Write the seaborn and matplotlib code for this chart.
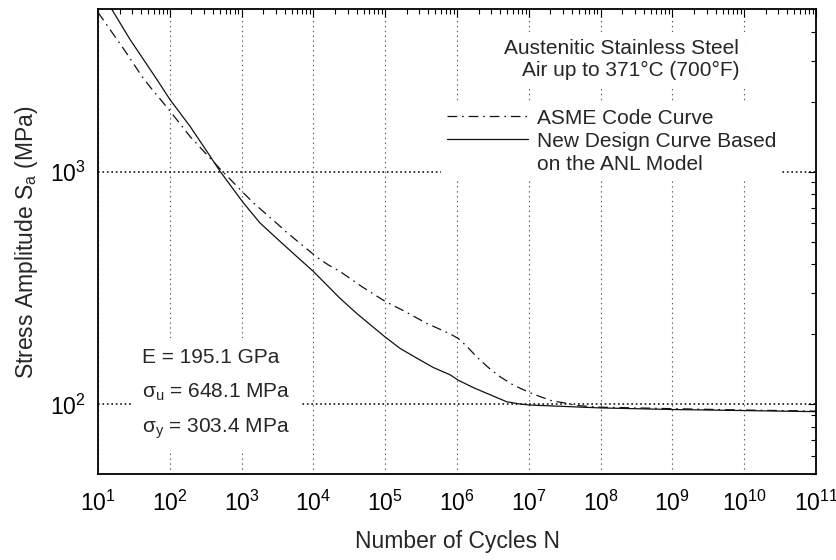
import numpy as np
import pandas as pd
import matplotlib
matplotlib.use("Agg")
import matplotlib.pyplot as plt
from matplotlib.ticker import LogLocator, NullFormatter, LogFormatterMathtext
from matplotlib.lines import Line2D
import seaborn as sns

# ---- data ----
asme_cycles = [1.0e1, 2.38e1, 4.06e1, 5.3e1, 1.0e2, 1.91e2, 5.0e2, 1.06e3, 1.46e3,
               2.99e3, 4.25e3, 1.11e4, 1.61e4, 2.34e4, 4.71e4, 1.0e5, 1.79e5, 3.78e5,
               8.0e5, 1.04e6, 1.36e6, 1.88e6, 2.73e6, 3.97e6, 6.08e6, 9.84e6, 1.43e7,
               2.08e7, 3.03e7, 4.65e7, 1.0e8, 1.0e9, 1.0e10, 1.0e11]
asme_stress = [4850, 3310, 2580, 2320, 1830, 1420, 1030, 812, 735,
               606, 549, 430, 398, 373, 321, 277, 253, 223,
               201, 192, 178, 160, 144, 131.5, 121, 113, 108,
               103.6, 101.6, 98.8, 97.2, 95.8, 94.5, 93.5]

anl_cycles = [1.0e1, 1.55e1, 2.79e1, 6.58e1, 1.0e2, 1.91e2, 3.27e2, 5.0e2, 1.06e3,
              1.8e3, 3.43e3, 6.17e3, 9.98e3, 2.34e4, 4.01e4, 9.93e4, 1.61e5, 2.75e5,
              4.68e5, 8.0e5, 1.04e6, 1.69e6, 2.88e6, 4.92e6, 7.53e6, 1.04e7, 1.0e8,
              1.0e9, 1.0e10, 1.0e11]
anl_stress = [6100, 5010, 3710, 2500, 2050, 1570, 1227, 1006, 735,
              603, 502, 426, 373, 286, 246, 195, 174, 158,
              144, 134, 127, 118, 110, 102.6, 100.3, 99.3, 96.5,
              95.0, 94.0, 93.0]

x_ticks = [10.0 ** k for k in range(1, 12)]
y_ticks = [100, 1000]

asme_df = pd.DataFrame({"N": asme_cycles, "Sa": asme_stress})
anl_df = pd.DataFrame({"N": anl_cycles, "Sa": anl_stress})

sns.set_theme(style="white")
plt.rcParams["font.family"] = ["Liberation Sans", "DejaVu Sans"]
plt.rcParams["mathtext.fontset"] = "custom"
plt.rcParams["mathtext.rm"] = "Liberation Sans"
plt.rcParams["mathtext.it"] = "Liberation Sans:italic"
plt.rcParams["mathtext.bf"] = "Liberation Sans:bold"
plt.rcParams["lines.scale_dashes"] = False

fig = plt.figure(figsize=(8.37, 5.6), dpi=100)
ax = fig.add_axes([0.1171, 0.153, 0.8578, 0.8304])
ax.set_xscale("log")
ax.set_yscale("log")

asme_ls = (0, (7, 3.5, 1.2, 3.5))
sns.lineplot(data=asme_df, x="N", y="Sa", ax=ax, color="#111111", lw=0.9,
             linestyle=asme_ls, sort=False, estimator=None)
sns.lineplot(data=anl_df, x="N", y="Sa", ax=ax, color="#111111", lw=0.9,
             linestyle="-", sort=False, estimator=None)

ax.set_xlim(10, 1e11)
ax.set_ylim(50, 5000)

ax.xaxis.set_minor_locator(LogLocator(base=10, subs=np.arange(2, 10), numticks=200))
ax.xaxis.set_minor_formatter(NullFormatter())
ax.set_xticks(x_ticks)
ax.xaxis.set_major_formatter(LogFormatterMathtext())
ax.yaxis.set_minor_locator(LogLocator(base=10, subs=np.arange(2, 10), numticks=50))
ax.yaxis.set_minor_formatter(NullFormatter())
ax.set_yticks(y_ticks)
ax.yaxis.set_major_formatter(LogFormatterMathtext())

ax.tick_params(which="both", direction="in", top=True, right=True, colors="black")
ax.tick_params(which="major", length=6, width=0.8, labelsize=16.5, pad=9)
ax.tick_params(axis="x", which="major", pad=12)
ax.tick_params(which="minor", length=3.5, width=0.8)

ax.xaxis.grid(True, which="major", linestyle=(0, (1, 2.5)), color="0.35", lw=0.8)
ax.yaxis.grid(True, which="major", linestyle=(0, (1.2, 2)), color="black", lw=1.1)

for s in ax.spines.values():
    s.set_color("black")
    s.set_linewidth(1.3)

ax.set_xlabel("Number of Cycles N", fontsize=16.5, labelpad=10)
ax.set_ylabel(r"Stress Amplitude S$_\mathregular{a}$ (MPa)", fontsize=16.5, labelpad=7)

white_box = dict(facecolor="white", edgecolor="none", boxstyle="square,pad=0.3")

ax.text(0.893, 0.9166, "Austenitic Stainless Steel", transform=ax.transAxes,
        ha="right", va="center", fontsize=15, bbox=white_box)
ax.text(0.893, 0.8692, "Air up to 371°C (700°F)", transform=ax.transAxes,
        ha="right", va="center", fontsize=15, bbox=white_box)

low_box = dict(facecolor="white", edgecolor="none", boxstyle="square,pad=0.45")
ax.text(0.0613, 0.252, "E = 195.1 GPa", transform=ax.transAxes,
        ha="left", va="center", fontsize=15, bbox=low_box)
ax.text(0.0613, 0.176, r"σ$_\mathregular{u}$ = 648.1 MPa", transform=ax.transAxes,
        ha="left", va="center", fontsize=15, bbox=low_box)
ax.text(0.0613, 0.098, r"σ$_\mathregular{y}$ = 303.4 MPa", transform=ax.transAxes,
        ha="left", va="center", fontsize=15, bbox=low_box)

handles = [Line2D([], [], color="#111111", lw=0.9, linestyle=asme_ls),
           Line2D([], [], color="#111111", lw=0.9, linestyle="-"),
           Line2D([], [], color="none", lw=0)]
labels = ["ASME Code Curve", "New Design Curve Based", "on the ANL Model"]
leg = ax.legend(handles, labels, loc="upper left", bbox_to_anchor=(0.4775, 0.80),
                frameon=True, fontsize=15, handlelength=3.9, handletextpad=0.4,
                labelspacing=0.2, borderpad=0.3, borderaxespad=0, fancybox=False,
                framealpha=1.0, edgecolor="none", facecolor="white")
leg.get_frame().set_linewidth(0)

fig.savefig("out.png", dpi=100)
